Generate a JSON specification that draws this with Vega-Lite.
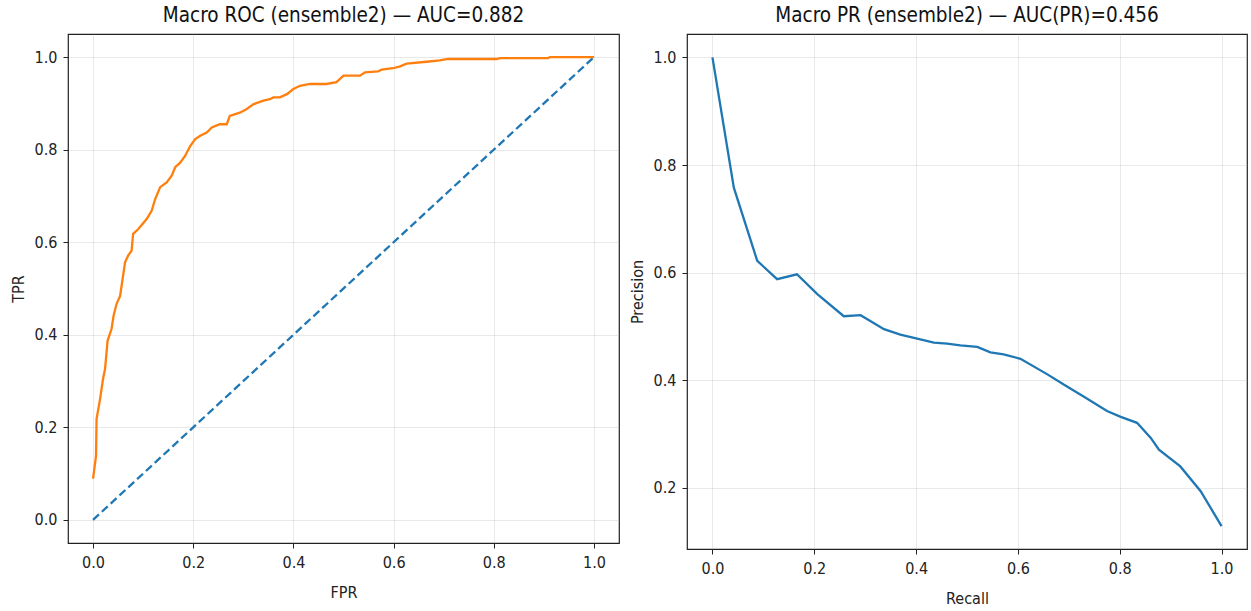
{
  "$schema": "https://vega.github.io/schema/vega-lite/v6.json",
  "background": "white",
  "padding": {"left": 9, "top": 4, "right": 5, "bottom": 5},
  "spacing": 8,
  "datasets": {
    "roc": [
      {"fpr": 0.0, "tpr": 0.089}, {"fpr": 0.006, "tpr": 0.139}, {"fpr": 0.007, "tpr": 0.218}, {"fpr": 0.014, "tpr": 0.261},
      {"fpr": 0.02, "tpr": 0.305}, {"fpr": 0.024, "tpr": 0.326}, {"fpr": 0.029, "tpr": 0.387}, {"fpr": 0.037, "tpr": 0.413},
      {"fpr": 0.041, "tpr": 0.441}, {"fpr": 0.047, "tpr": 0.467}, {"fpr": 0.054, "tpr": 0.484}, {"fpr": 0.057, "tpr": 0.506},
      {"fpr": 0.064, "tpr": 0.557}, {"fpr": 0.07, "tpr": 0.571}, {"fpr": 0.077, "tpr": 0.582}, {"fpr": 0.08, "tpr": 0.618},
      {"fpr": 0.09, "tpr": 0.628}, {"fpr": 0.107, "tpr": 0.65}, {"fpr": 0.117, "tpr": 0.668}, {"fpr": 0.124, "tpr": 0.693},
      {"fpr": 0.134, "tpr": 0.719}, {"fpr": 0.147, "tpr": 0.729}, {"fpr": 0.157, "tpr": 0.744}, {"fpr": 0.164, "tpr": 0.762},
      {"fpr": 0.174, "tpr": 0.772}, {"fpr": 0.184, "tpr": 0.787}, {"fpr": 0.194, "tpr": 0.808}, {"fpr": 0.204, "tpr": 0.823},
      {"fpr": 0.214, "tpr": 0.83}, {"fpr": 0.227, "tpr": 0.837}, {"fpr": 0.237, "tpr": 0.848}, {"fpr": 0.253, "tpr": 0.855},
      {"fpr": 0.267, "tpr": 0.855}, {"fpr": 0.273, "tpr": 0.873}, {"fpr": 0.293, "tpr": 0.88}, {"fpr": 0.307, "tpr": 0.888},
      {"fpr": 0.32, "tpr": 0.898}, {"fpr": 0.34, "tpr": 0.906}, {"fpr": 0.353, "tpr": 0.909}, {"fpr": 0.36, "tpr": 0.913},
      {"fpr": 0.373, "tpr": 0.913}, {"fpr": 0.387, "tpr": 0.92}, {"fpr": 0.4, "tpr": 0.931}, {"fpr": 0.413, "tpr": 0.938},
      {"fpr": 0.433, "tpr": 0.942}, {"fpr": 0.466, "tpr": 0.942}, {"fpr": 0.486, "tpr": 0.946}, {"fpr": 0.5, "tpr": 0.96},
      {"fpr": 0.533, "tpr": 0.96}, {"fpr": 0.543, "tpr": 0.967}, {"fpr": 0.569, "tpr": 0.969}, {"fpr": 0.576, "tpr": 0.973},
      {"fpr": 0.599, "tpr": 0.976}, {"fpr": 0.613, "tpr": 0.98}, {"fpr": 0.626, "tpr": 0.986}, {"fpr": 0.666, "tpr": 0.99},
      {"fpr": 0.692, "tpr": 0.993}, {"fpr": 0.709, "tpr": 0.996}, {"fpr": 0.806, "tpr": 0.996}, {"fpr": 0.812, "tpr": 0.998},
      {"fpr": 0.909, "tpr": 0.998}, {"fpr": 0.912, "tpr": 1.0}, {"fpr": 1.0, "tpr": 1.0}
    ],
    "diag": [{"fpr": 0, "tpr": 0}, {"fpr": 1, "tpr": 1}],
    "pr": [
      {"recall": 0.0, "precision": 1.0}, {"recall": 0.042, "precision": 0.758}, {"recall": 0.088, "precision": 0.622},
      {"recall": 0.127, "precision": 0.588}, {"recall": 0.166, "precision": 0.597}, {"recall": 0.206, "precision": 0.56},
      {"recall": 0.258, "precision": 0.519}, {"recall": 0.291, "precision": 0.521}, {"recall": 0.337, "precision": 0.495},
      {"recall": 0.369, "precision": 0.485}, {"recall": 0.396, "precision": 0.479}, {"recall": 0.435, "precision": 0.47},
      {"recall": 0.461, "precision": 0.468}, {"recall": 0.487, "precision": 0.465}, {"recall": 0.52, "precision": 0.462},
      {"recall": 0.546, "precision": 0.452}, {"recall": 0.572, "precision": 0.448}, {"recall": 0.605, "precision": 0.44},
      {"recall": 0.658, "precision": 0.411}, {"recall": 0.69, "precision": 0.392}, {"recall": 0.729, "precision": 0.37},
      {"recall": 0.775, "precision": 0.343}, {"recall": 0.802, "precision": 0.332}, {"recall": 0.834, "precision": 0.321},
      {"recall": 0.861, "precision": 0.293}, {"recall": 0.877, "precision": 0.271}, {"recall": 0.919, "precision": 0.24},
      {"recall": 0.959, "precision": 0.194}, {"recall": 1.0, "precision": 0.129}
    ]
  },
  "config": {
    "font": "DejaVu Sans Condensed",
    "view": {"stroke": "#222222", "strokeWidth": 1.2},
    "axis": {
      "domain": false,
      "grid": true,
      "gridColor": "#b0b0b0",
      "gridOpacity": 0.35,
      "gridWidth": 0.8,
      "ticks": true,
      "tickSize": 5,
      "tickColor": "#222222",
      "tickWidth": 1,
      "labelFont": "DejaVu Sans Condensed",
      "labelFontSize": 16,
      "labelColor": "#222222",
      "labelPadding": 6,
      "titleFont": "DejaVu Sans Condensed",
      "titleFontSize": 16,
      "titleFontWeight": "normal",
      "titleColor": "#222222"
    },
    "axisX": {"titlePadding": 14},
    "axisY": {"titlePadding": 8},
    "title": {"font": "DejaVu Sans Condensed", "fontSize": 20.5, "fontWeight": "normal", "color": "#111111", "offset": 8}
  },
  "hconcat": [
    {
      "width": 551,
      "height": 509,
      "title": "Macro ROC (ensemble2) — AUC=0.882",
      "layer": [
        {
          "data": {"name": "diag"},
          "mark": {"type": "line", "color": "#1f77b4", "strokeWidth": 2.3, "strokeDash": [8, 4]},
          "encoding": {
            "x": {"field": "fpr", "type": "quantitative", "scale": {"domain": [-0.05, 1.05], "nice": false, "zero": false},
                  "axis": {"values": [0, 0.2, 0.4, 0.6, 0.8, 1.0], "format": ".1f", "title": "FPR"}},
            "y": {"field": "tpr", "type": "quantitative", "scale": {"domain": [-0.05, 1.05], "nice": false, "zero": false},
                  "axis": {"values": [0, 0.2, 0.4, 0.6, 0.8, 1.0], "format": ".1f", "title": "TPR"}}
          }
        },
        {
          "data": {"name": "roc"},
          "mark": {"type": "line", "color": "#ff7f0e", "strokeWidth": 2.3},
          "encoding": {
            "x": {"field": "fpr", "type": "quantitative"},
            "y": {"field": "tpr", "type": "quantitative"}
          }
        }
      ]
    },
    {
      "width": 560,
      "height": 515,
      "title": "Macro PR (ensemble2) — AUC(PR)=0.456",
      "data": {"name": "pr"},
      "mark": {"type": "line", "color": "#1f77b4", "strokeWidth": 2.3},
      "encoding": {
        "x": {"field": "recall", "type": "quantitative", "scale": {"domain": [-0.05, 1.05], "nice": false, "zero": false},
              "axis": {"values": [0, 0.2, 0.4, 0.6, 0.8, 1.0], "format": ".1f", "title": "Recall"}},
        "y": {"field": "precision", "type": "quantitative", "scale": {"domain": [0.0865, 1.0435], "nice": false, "zero": false},
              "axis": {"values": [0.2, 0.4, 0.6, 0.8, 1.0], "format": ".1f", "title": "Precision"}}
      }
    }
  ]
}
